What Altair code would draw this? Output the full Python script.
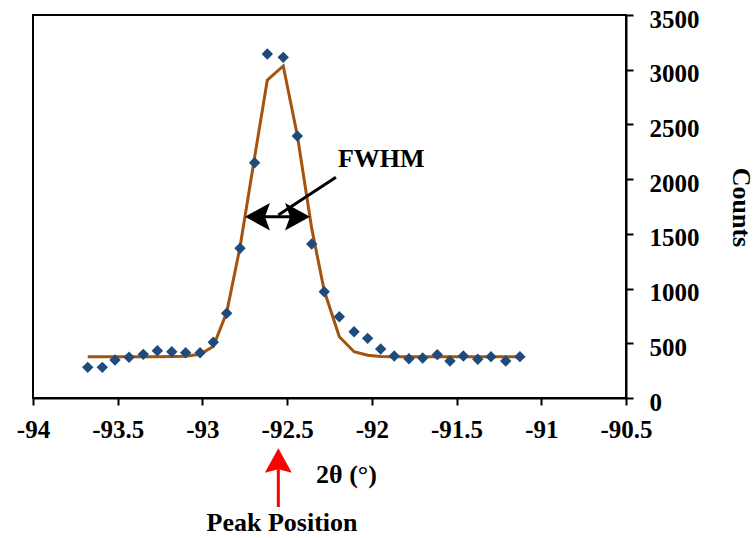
import altair as alt
import pandas as pd

# measured data (2theta in degrees, counts)
two_theta = [-93.677, -93.591, -93.516, -93.433, -93.349, -93.266, -93.181, -93.099,
             -93.014, -92.936, -92.857, -92.778, -92.692, -92.617, -92.523, -92.440,
             -92.355, -92.281, -92.192, -92.105, -92.025, -91.948, -91.868, -91.781,
             -91.700, -91.614, -91.539, -91.460, -91.375, -91.297, -91.210, -91.126]
counts = [280, 280, 347, 372, 399, 432, 423, 414,
          414, 509, 774, 1368, 2150, 3143, 3113, 2394,
          1407, 971, 743, 606, 545, 448, 384, 359,
          365, 396, 338, 384, 354, 378, 338, 378]
fit = [378, 378, 378, 378, 378, 378, 379, 382,
       400, 470, 780, 1380, 2200, 2906, 3034, 2400,
       1550, 980, 560, 423, 390, 380, 378, 378,
       378, 378, 378, 378, 378, 378, 378, 378]

x_ticks = [-94, -93.5, -93, -92.5, -92, -91.5, -91, -90.5]
y_ticks = [0, 500, 1000, 1500, 2000, 2500, 3000, 3500]

# annotations (data units)
fwhm_x = [-92.749, -92.365]
fwhm_y = [1657]
pointer_x = [-92.212, -92.552]
pointer_y = [2017, 1672]
fwhm_label_x = [-92.2]
fwhm_label_y = [2111]
peak_x = [-92.552]
peak_tip_y = [-460]
peak_shaft_y = [-650, -996]
peak_label = {"x": -92.53, "y": -1212}

FONT = "Liberation Serif"
FS = 25

df = pd.DataFrame({"two_theta": two_theta, "counts": counts, "fit": fit})

xscale = alt.Scale(domain=[-94, -90.5], nice=False, zero=False)
yscale = alt.Scale(domain=[0, 3500], nice=False)

xaxis = alt.Axis(values=x_ticks, labelExpr="'' + datum.value", labelFlush=False,
                 labelOverlap=False, grid=False, title="2θ (°)",
                 titleX=313, titleY=76, titleBaseline="middle", titleAlign="center",
                 labelPadding=12)
yaxis = alt.Axis(values=y_ticks, format="d", orient="right", labelFlush=False,
                 labelOverlap=False, grid=False, title="Counts", titleAngle=90,
                 titleX=114, titleY=192, titleBaseline="middle", titleAlign="center",
                 labelPadding=16, labelOffset=4)

base = alt.Chart(df)
X = alt.X("two_theta:Q", scale=xscale, axis=xaxis)

fit_line = base.mark_line(color="#A5520F", strokeWidth=3).encode(
    x=X, y=alt.Y("fit:Q", scale=yscale, axis=yaxis))
pts = base.mark_point(shape="diamond", filled=True, size=130, color="#1E4B7C",
                      opacity=1).encode(x=X, y=alt.Y("counts:Q", scale=yscale))

def xs(v):
    return alt.X(v, type="quantitative", scale=xscale)

def ys(v):
    return alt.Y(v, type="quantitative", scale=yscale)

fwhm_df = pd.DataFrame({"x1": [fwhm_x[0] + 0.05], "x2": [fwhm_x[1] - 0.05], "y": fwhm_y})
fwhm_shaft = alt.Chart(fwhm_df).mark_rule(color="black", strokeWidth=3).encode(
    x=xs("x1"), x2="x2", y=ys("y"))

left_head = alt.Chart(pd.DataFrame({"x": [fwhm_x[0]], "y": fwhm_y})).mark_point(
    shape="M 0 0 L 2 -1.1 L 1.6 0 L 2 1.1 Z", filled=True, color="black",
    size=625, opacity=1).encode(x=xs("x"), y=ys("y"))
right_head = alt.Chart(pd.DataFrame({"x": [fwhm_x[1]], "y": fwhm_y})).mark_point(
    shape="M 0 0 L -2 -1.1 L -1.6 0 L -2 1.1 Z", filled=True, color="black",
    size=625, opacity=1).encode(x=xs("x"), y=ys("y"))

pointer_df = pd.DataFrame({"x1": [pointer_x[0]], "y1": [pointer_y[0]],
                           "x2": [pointer_x[1]], "y2": [pointer_y[1]]})
pointer = alt.Chart(pointer_df).mark_rule(color="black", strokeWidth=3).encode(
    x=xs("x1"), y=ys("y1"), x2="x2", y2="y2")

fwhm_text = alt.Chart(pd.DataFrame({"x": fwhm_label_x, "y": fwhm_label_y, "t": ["FWHM"]})).mark_text(
    font=FONT, fontSize=FS + 1, fontWeight="bold", align="left", baseline="alphabetic",
    color="black").encode(x=xs("x"), y=ys("y"), text="t:N")

peak_shaft = alt.Chart(pd.DataFrame({"x": peak_x, "y1": [peak_shaft_y[0]], "y2": [peak_shaft_y[1]]})).mark_rule(
    color="#FF0000", strokeWidth=3).encode(x=xs("x"), y=ys("y1"), y2="y2")
peak_head = alt.Chart(pd.DataFrame({"x": peak_x, "y": peak_tip_y})).mark_point(
    shape="M 0 0 L 1 1.8 L 0 1.55 L -1 1.8 Z", filled=True, color="#FF0000",
    size=729, opacity=1).encode(x=xs("x"), y=ys("y"))
peak_text = alt.Chart(pd.DataFrame({"x": [peak_label["x"]], "y": [peak_label["y"]], "t": ["Peak Position"]})).mark_text(
    font=FONT, fontSize=FS + 1, fontWeight="bold", align="center", baseline="alphabetic",
    color="black").encode(x=xs("x"), y=ys("y"), text="t:N")

chart = alt.layer(
    fit_line, pts, fwhm_shaft, left_head, right_head, pointer, fwhm_text,
    peak_shaft, peak_head, peak_text
).properties(
    width=593, height=383,
    padding={"left": 33, "top": 15, "right": 128, "bottom": 140},
    autosize=alt.AutoSizeParams(type="none"),
    background="white",
).configure_view(
    stroke="black", strokeWidth=2
).configure_axis(
    domainColor="black", domainWidth=2, tickColor="black", tickWidth=2, tickSize=7,
    labelFont=FONT, labelFontSize=FS, labelFontWeight="bold", labelColor="black",
    titleFont=FONT, titleFontSize=FS + 1, titleFontWeight="bold", titleColor="black",
)

chart.save("out.html", embed_options={"renderer": "svg", "actions": False})
